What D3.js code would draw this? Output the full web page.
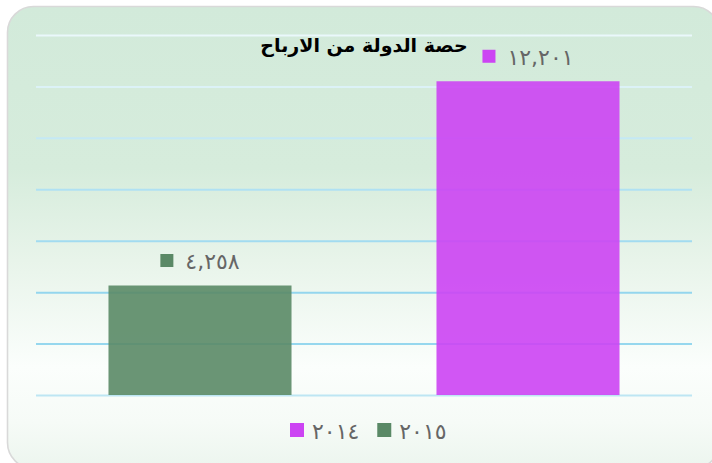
<!DOCTYPE html>
<html lang="ar">
<head>
<meta charset="utf-8">
<script src="https://cdn.jsdelivr.net/npm/d3@7"></script>
<style>
  html, body { margin: 0; padding: 0; background: #ffffff; }
  svg { display: block; }
</style>
</head>
<body>
<svg id="chart" width="712" height="463"></svg>
<script>
// Chart data
const title = "حصة الدولة من الارباح";
const years = ["2015", "2014"];            // left to right
const yearLabels = ["٢٠١٥", "٢٠١٤"];
const values = [4258, 12201];
const colors = ["#5a8966", "#cc44f3"];
const yTicks = [0, 2000, 4000, 6000, 8000, 10000, 12000, 14000];

const W = 712, H = 463;
const plot = { left: 36, right: 692, top: 35, bottom: 395 };

const svg = d3.select("#chart");
const defs = svg.append("defs");

// Background gradient of the chart frame
const bg = defs.append("linearGradient").attr("id", "bg")
  .attr("x1", 0).attr("y1", 0).attr("x2", 0).attr("y2", 1);
[[0, "#d2eada"], [0.35, "#d6ecdc"], [0.55, "#e8f4ea"], [0.78, "#fbfefc"], [0.9, "#f6fbf7"], [1, "#ecf5ee"]]
  .forEach(([o, c]) => bg.append("stop").attr("offset", o).attr("stop-color", c));

svg.append("rect")
  .attr("x", 7.5).attr("y", 6.5).attr("width", 712).attr("height", 462)
  .attr("rx", 26).attr("ry", 26)
  .attr("fill", "url(#bg)")
  .attr("stroke", "#d9d9d9").attr("stroke-width", 1.6);

const y = d3.scaleLinear().domain([0, 14000]).range([plot.bottom, plot.top]);
const x = d3.scaleBand().domain(years).range([plot.left, plot.right]).paddingInner(0).paddingOuter(0);
const barW = x.bandwidth() * 0.558;

// Grid line colour: pale near the top, light blue further down
const gridColor = d3.scaleLinear()
  .domain([14000, 12000, 10000, 8000, 6000, 4000, 2000, 0])
  .range(["#eaf8fb", "#dcf2f7", "#c4e9f5", "#b0e1f3", "#a2dbf0", "#94d6ee", "#96d7ee", "#bde6f3"]);

// Horizontal grid
const yAxis = d3.axisLeft(y).tickValues(yTicks).tickSize(-(plot.right - plot.left)).tickFormat("");
const ga = svg.append("g").attr("transform", `translate(${plot.left},0)`).call(yAxis);
ga.select(".domain").remove();
ga.selectAll(".tick line").attr("stroke", d => gridColor(d)).attr("stroke-width", 2);

// Bars
svg.append("g").selectAll("rect").data(values).join("rect")
  .attr("x", (d, i) => x(years[i]) + (x.bandwidth() - barW) / 2)
  .attr("y", d => y(d))
  .attr("width", barW)
  .attr("height", d => y(0) - y(d))
  .attr("fill", (d, i) => colors[i])
  .attr("fill-opacity", 0.9);

// Arabic-Indic digits
const toArabic = s => s.replace(/[0-9]/g, c => "٠١٢٣٤٥٦٧٨٩"[+c]);
const fmt = d3.format(",");

const numFont = "'DejaVu Sans', sans-serif";
const numColor = "#666666";

// Data labels: colour swatch followed by the value, centred over each bar
values.forEach((v, i) => {
  const cx = x(years[i]) + x.bandwidth() / 2;
  const cy = y(v) - 25;
  const g = svg.append("g");
  const sq = g.append("rect").attr("width", 13).attr("height", 13).attr("fill", colors[i]);
  const t = g.append("text")
    .attr("font-family", numFont).attr("font-size", 22).attr("fill", numColor)
    .attr("direction", "ltr").attr("dominant-baseline", "central")
    .text(toArabic(fmt(v)));
  const tw = t.node().getComputedTextLength();
  const total = 13 + 12 + tw;
  const x0 = cx - total / 2;
  sq.attr("x", x0).attr("y", cy - 6.5);
  t.attr("x", x0 + 25).attr("y", cy + 1);
});

// Title
svg.append("text")
  .attr("x", 364).attr("y", 52)
  .attr("text-anchor", "middle")
  .attr("font-family", "'DejaVu Sans', sans-serif")
  .attr("font-weight", "bold").attr("font-size", 19)
  .attr("fill", "#000")
  .text(title);

// Legend (2014 then 2015, left to right)
const legendOrder = [1, 0];
const lg = svg.append("g");
let lx = 290;
const ly = 430;
legendOrder.forEach(i => {
  lg.append("rect").attr("x", lx).attr("y", ly - 7).attr("width", 14).attr("height", 14).attr("fill", colors[i]);
  const t = lg.append("text")
    .attr("x", lx + 22).attr("y", ly + 1)
    .attr("font-family", numFont).attr("font-size", 22).attr("fill", numColor)
    .attr("direction", "ltr").attr("dominant-baseline", "central")
    .text(yearLabels[i]);
  lx += 22 + t.node().getComputedTextLength() + 18;
});
</script>
</body>
</html>
